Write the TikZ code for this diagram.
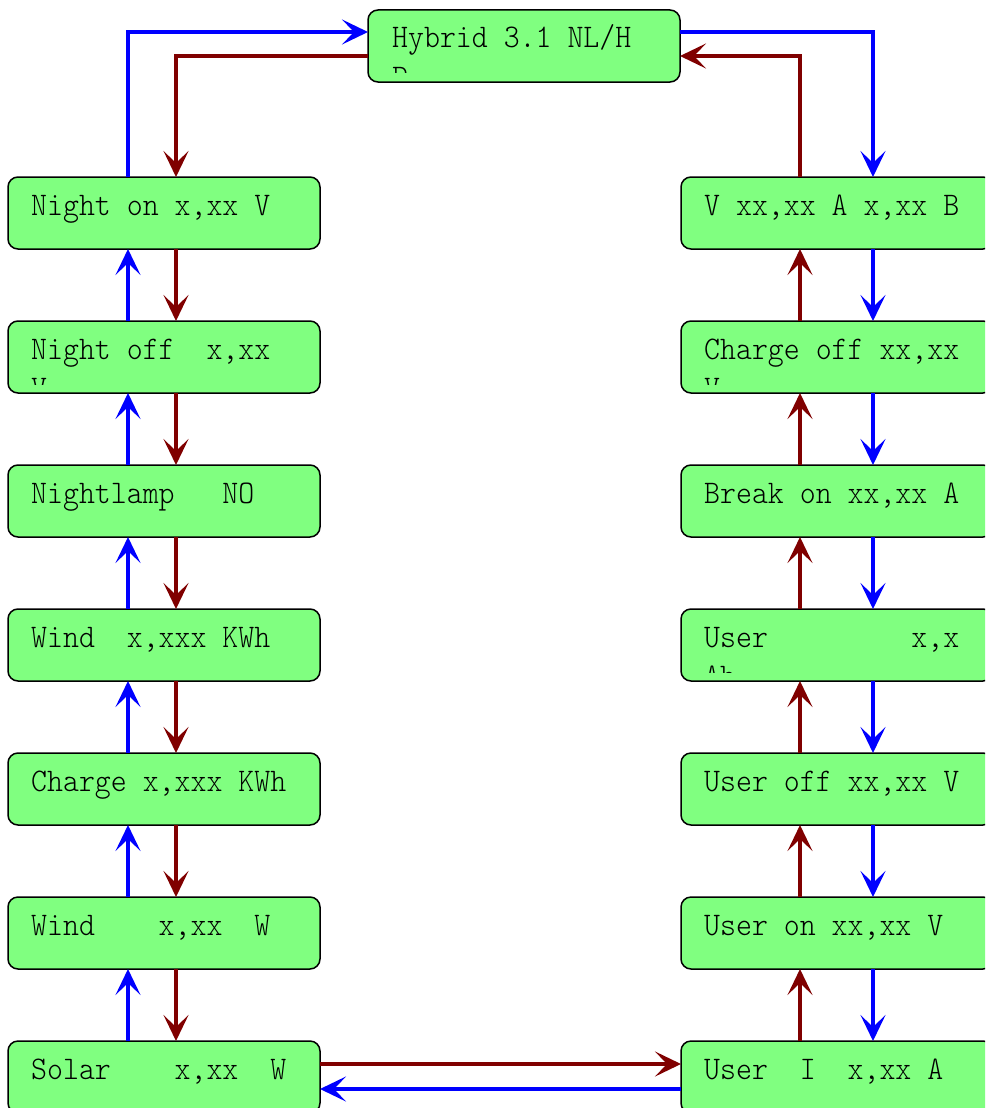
\documentclass[tikz,border=0pt]{standalone}
\usepackage{fontspec}
\newfontfamily\boxfont[FakeStretch=0.92]{Latin Modern Mono Light}
\usetikzlibrary{arrows.meta}
\definecolor{boxgreen}{RGB}{128,255,128}
\definecolor{upblue}{RGB}{0,0,255}
\definecolor{downred}{RGB}{128,0,0}
\tikzset{
  box/.style={draw=black, line width=1.5pt, fill=boxgreen, rounded corners=10pt,
    minimum width=312pt, minimum height=72pt, inner sep=0pt, outer sep=0pt, anchor=north west},
  boxtext/.style={anchor=base west, inner sep=0pt, font=\boxfont\fontsize{33}{40}\selectfont},
  bluearrow/.style={draw=upblue, line width=3.2pt, -{Stealth[length=26pt,width=25pt,inset=12pt]}},
  redarrow/.style={draw=downred, line width=3.2pt, -{Stealth[length=26pt,width=25pt,inset=12pt]}},
}
\begin{document}
\begin{tikzpicture}[x=1pt,y=-1pt]
\fill[white] (0,0) rectangle (985,1108);
\clip (0,0) rectangle (985,1108);
% boxes
\node[box] (hyb) at (368,10) {};
\node[box] (n1) at (8,177) {};
\node[box] (n2) at (8,321) {};
\node[box] (n3) at (8,465) {};
\node[box] (n4) at (8,609) {};
\node[box] (n5) at (8,753) {};
\node[box] (n6) at (8,897) {};
\node[box] (n7) at (8,1041) {};
\node[box] (r1) at (681,177) {};
\node[box] (r2) at (681,321) {};
\node[box] (r3) at (681,465) {};
\node[box] (r4) at (681,609) {};
\node[box] (r5) at (681,753) {};
\node[box] (r6) at (681,897) {};
\node[box] (r7) at (681,1041) {};
% texts, first lines
\node[boxtext] (thyb) at (392,48) {Hybrid~3.1~NL/H};
\node[boxtext] (tn1) at (31,215) {Night~on~x,xx~V};
\node[boxtext] (tn2) at (31,359) {Night~off~~x,xx};
\node[boxtext] (tn3) at (31,503) {Nightlamp~~~NO};
\node[boxtext] (tn4) at (31,647) {Wind~~x,xxx~KWh};
\node[boxtext] (tn5) at (31,791) {Charge~x,xxx~KWh};
\node[boxtext] (tn6) at (31,935) {Wind~~~~x,xx~~W};
\node[boxtext] (tn7) at (31,1079) {Solar~~~~x,xx~~W};
\node[boxtext] (tr1) at (704,215) {V~xx,xx~A~x,xx~B};
\node[boxtext] (tr2) at (704,359) {Charge~off~xx,xx};
\node[boxtext] (tr3) at (704,503) {Break~on~xx,xx~A};
\node[boxtext] (tr4) at (704,647) {User~~~~~~~~~x,x};
\node[boxtext] (tr5) at (704,791) {User~off~xx,xx~V};
\node[boxtext] (tr6) at (704,935) {User~on~xx,xx~V};
\node[boxtext] (tr7) at (704,1079) {User~~I~~x,xx~A};
% clipped second lines
\begin{scope}
  \clip (368,10) rectangle (680,73);
  \node[boxtext] (thyb2) at (392,87) {P};
\end{scope}
\begin{scope}
  \clip (8,321) rectangle (320,384);
  \node[boxtext] (tn22) at (31,398) {V};
\end{scope}
\begin{scope}
  \clip (681,321) rectangle (993,384);
  \node[boxtext] (tr22) at (704,398) {V};
\end{scope}
\begin{scope}
  \clip (681,609) rectangle (993,672);
  \node[boxtext] (tr42) at (704,686) {Ah};
\end{scope}
% left column connectors
\foreach \lo/\up in {n2/n1,n3/n2,n4/n3,n5/n4,n6/n5,n7/n6}{
  \draw[bluearrow] ([xshift=120pt]\lo.north west) -- ([xshift=120pt]\up.south west);
  \draw[redarrow] ([xshift=168pt]\up.south west) -- ([xshift=168pt]\lo.north west);
}
% right column connectors
\foreach \lo/\up in {r2/r1,r3/r2,r4/r3,r5/r4,r6/r5,r7/r6}{
  \draw[redarrow] ([xshift=119pt]\lo.north west) -- ([xshift=119pt]\up.south west);
  \draw[bluearrow] ([xshift=192pt]\up.south west) -- ([xshift=192pt]\lo.north west);
}
% top connectors
\draw[bluearrow] ([xshift=120pt]n1.north west) |- ([yshift=-22pt]hyb.north west);
\draw[redarrow] ([yshift=-46pt]hyb.north west) -| ([xshift=168pt]n1.north west);
\draw[bluearrow] ([yshift=-22pt]hyb.north east) -| ([xshift=192pt]r1.north west);
\draw[redarrow] ([xshift=119pt]r1.north west) |- ([yshift=-46pt]hyb.north east);
% bottom connectors
\draw[redarrow] ([yshift=-23pt]n7.north east) -- ([yshift=-23pt]r7.north west);
\draw[bluearrow] ([yshift=-48pt]r7.north west) -- ([yshift=-48pt]n7.north east);
\end{tikzpicture}
\end{document}
